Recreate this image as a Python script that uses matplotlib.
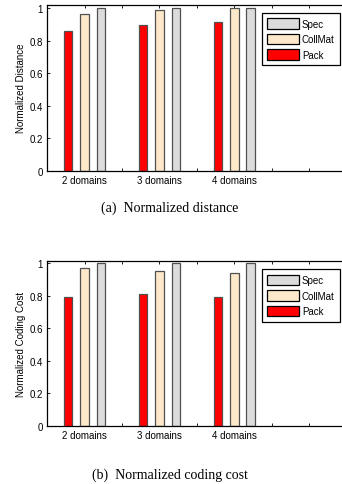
import numpy as np
import matplotlib
matplotlib.use("Agg")
import matplotlib.pyplot as plt

plt.rcParams['font.family'] = ['Liberation Sans', 'DejaVu Sans']

groups = ["2 domains", "3 domains", "4 domains"]
series = ["Pack", "CollMat", "Spec"]
distance = {
    "Pack": [0.862, 0.895, 0.918],
    "CollMat": [0.963, 0.99, 1.0],
    "Spec": [1.0, 1.0, 1.0],
}
coding_cost = {
    "Pack": [0.791, 0.807, 0.793],
    "CollMat": [0.968, 0.952, 0.94],
    "Spec": [1.0, 1.0, 1.0],
}
y_ticks = [0, 0.2, 0.4, 0.6, 0.8, 1]
y_tick_labels = ["0", "0.2", "0.4", "0.6", "0.8", "1"]

colors = {"Pack": "#ff0000", "CollMat": "#fde9c9", "Spec": "#dcdcdc"}
offsets = {"Pack": -0.22, "CollMat": 0.0, "Spec": 0.22}

W, H = 342, 485
fig = plt.figure(figsize=(W / 100, H / 100), dpi=100)


def draw(rect, data, ylabel, caption, cap_y, ytop):
    ax = fig.add_axes(rect)
    x = np.arange(1, len(groups) + 1)
    for s in series:
        ax.bar(x + offsets[s], data[s], width=0.115, color=colors[s],
               edgecolor="#505050", linewidth=0.9, label=s, zorder=2)
    ax.set_xlim(0.5, 4.5)
    ax.set_ylim(0, ytop)
    ax.set_xticks([1, 1.5, 2, 2.5, 3, 3.5, 4])
    ax.set_xticklabels([groups[0], "", groups[1], "", groups[2], "", ""])
    ax.set_yticks(y_ticks)
    ax.set_yticklabels(y_tick_labels)
    ax.tick_params(direction="in", length=2.5, width=0.6, labelsize=7,
                   top=True, pad=3)
    ax.set_ylabel(ylabel, fontsize=7)
    ax.yaxis.set_label_coords(-0.072, 0.5)
    for sp in ax.spines.values():
        sp.set_linewidth(0.9)
    handles, labels = ax.get_legend_handles_labels()
    leg = ax.legend(handles[::-1], labels[::-1], loc="upper right",
                    bbox_to_anchor=(340 / W, rect[1] + rect[3] - 8 / H),
                    bbox_transform=fig.transFigure, borderaxespad=0,
                    fontsize=7, handlelength=3.2, handleheight=1.3,
                    labelspacing=0.5, handletextpad=0.35, borderpad=0.55,
                    fancybox=False, framealpha=1, edgecolor="black")
    leg.get_frame().set_linewidth(0.9)
    for p in leg.get_patches():
        p.set_edgecolor("black")
    fig.text(170 / W, 1 - cap_y / H, caption, ha="center", va="center",
             fontsize=10, family=["Liberation Serif", "DejaVu Serif"])
    return ax


left = 47.2 / W
width = 299.4 / W
draw([left, 1 - 171.7 / H, width, 166.0 / H], distance,
     "Normalized Distance", "(a)  Normalized distance", 208, 1.022)
draw([left, 1 - 427.0 / H, width, 164.7 / H], coding_cost,
     "Normalized Coding Cost", "(b)  Normalized coding cost", 475, 1.01)

fig.savefig("out.png", dpi=100)
